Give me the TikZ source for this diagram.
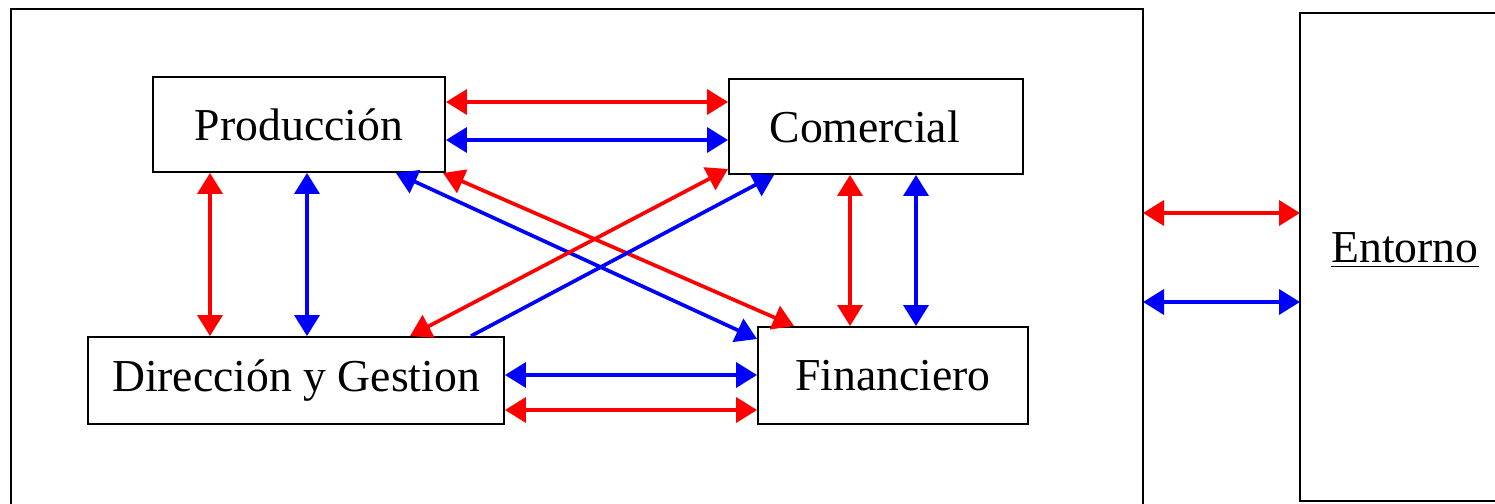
\documentclass[tikz,border=0pt]{standalone}
\usepackage{fontspec}
\setmainfont{Liberation Serif}
\usetikzlibrary{positioning,calc,arrows.meta}
\tikzset{>={Triangle[length=0.42cm,width=0.5cm]}}
\tikzset{area/.style={draw,line width=1.1pt,fill=white,inner sep=0pt,font=\fontsize{26}{30}\selectfont}}
\tikzset{rojo/.style={<->,red,line width=2.1pt},azul/.style={<->,blue,line width=2.1pt}}

\begin{document}
\begin{tikzpicture}
\useasboundingbox (0,0) rectangle (29.9,10.06);
\coordinate (E1) at (22.86,5.80);
\coordinate (E2) at (26.0,5.80);
\coordinate (E3) at (22.86,4.02);
\coordinate (E4) at (26.0,4.02);
% empresa y entorno
\draw[line width=1.1pt] (0.22,-0.3) |- (22.86,9.88) -- (22.86,-0.3);
\draw[line width=1.1pt] (30.3,9.80) -| (26.0,0.04) -- (30.3,0.04);
\node[font=\fontsize{26}{30}\selectfont] (ent) at (28.1,5.06) {\underline{Entorno}};
% areas
\node[area,minimum width=5.84cm,minimum height=1.90cm] (prod) at (5.98,7.57) {Producción};
\node[area,minimum width=5.88cm,minimum height=1.90cm] (com) at (17.52,7.53) {Comercial\kern0.45cm};
\node[area,minimum width=8.32cm,minimum height=1.74cm] (dir) at (5.92,2.45) {Dirección y Gestion};
\node[area,minimum width=5.40cm,minimum height=1.94cm] (fin) at (17.86,2.55) {Financiero};
% flujos
\draw[rojo] ([yshift=0.45cm]prod.east) -- ([yshift=0.45cm]prod.east -| com.west);
\draw[azul] ([yshift=-0.31cm]prod.east) -- ([yshift=-0.31cm]prod.east -| com.west);
\draw[rojo] ([xshift=-1.78cm]prod.south) -- ([xshift=-1.78cm]prod.south |- dir.north);
\draw[azul] ([xshift=0.16cm]prod.south) -- ([xshift=0.16cm]prod.south |- dir.north);
\draw[rojo] ([xshift=-0.52cm]com.south) -- ([xshift=-0.52cm]com.south |- fin.north);
\draw[azul] ([xshift=0.80cm]com.south) -- ([xshift=0.80cm]com.south |- fin.north);
\draw[azul] ([yshift=0.11cm]dir.east) -- ([yshift=0.11cm]dir.east -| fin.west);
\draw[rojo] ([yshift=-0.59cm]dir.east) -- ([yshift=-0.59cm]dir.east -| fin.west);
\draw[azul] ([xshift=-1.0cm]prod.south east) -- ([yshift=-0.26cm]fin.north west);
\draw[rojo] ([xshift=-0.06cm]prod.south east) -- ([xshift=0.74cm]fin.north west);
\draw[rojo] ([xshift=2.28cm]dir.north) -- ([yshift=0.12cm]com.south west);
\draw[->,blue,line width=2.1pt] ([xshift=-0.68cm]dir.north east) -- ([xshift=0.92cm]com.south west);
\draw[rojo] (E1) -- (E2);
\draw[azul] (E3) -- (E4);
\end{tikzpicture}
\end{document}
